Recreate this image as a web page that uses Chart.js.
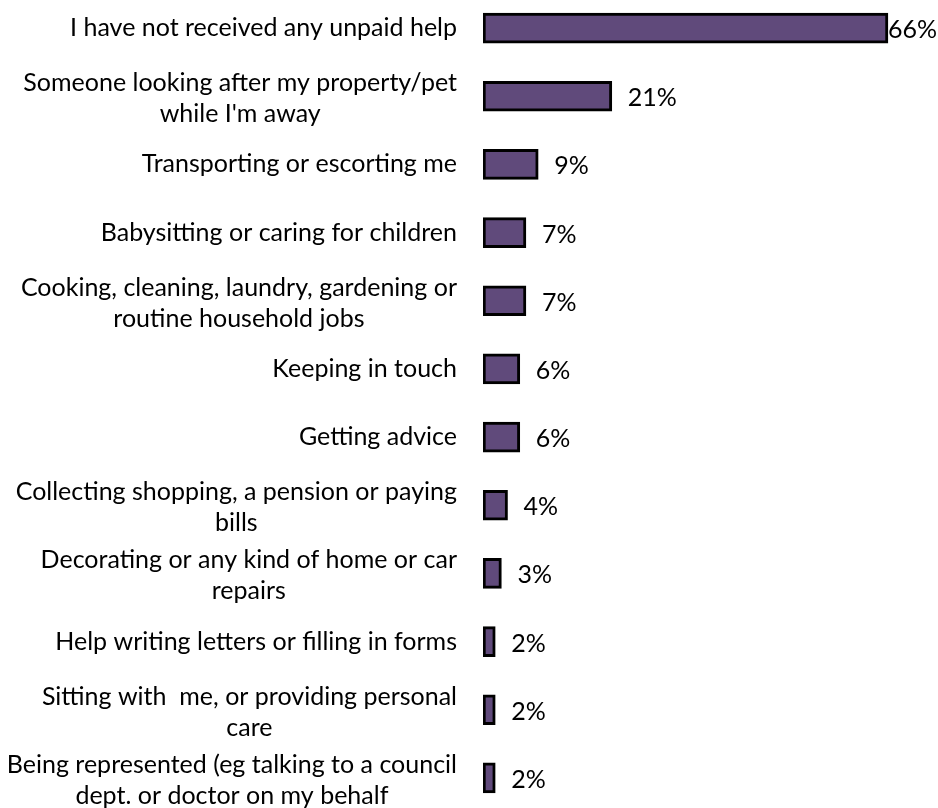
<!DOCTYPE html>
<html>
<head>
<meta charset="utf-8">
<script src="https://cdn.jsdelivr.net/npm/chart.js@4"></script>
<style>
  html, body { margin: 0; padding: 0; background: #ffffff; overflow: hidden; }
  #wrap { position: absolute; left: 0; top: -6px; width: 938px; height: 818px; }
</style>
</head>
<body>
<div id="wrap"><canvas id="chart"></canvas></div>
<script>
// Types of unpaid help received (% of respondents)
const categories = [
  ["I have not received any unpaid help"],
  ["Someone looking after my property/pet", "while I'm away"],
  ["Transporting or escorting me"],
  ["Babysitting or caring for children"],
  ["Cooking, cleaning, laundry, gardening or", "routine household jobs"],
  ["Keeping in touch"],
  ["Getting advice"],
  ["Collecting shopping, a pension or paying", "bills"],
  ["Decorating or any kind of home or car", "repairs"],
  ["Help writing letters or filling in forms"],
  ["Sitting with  me, or providing personal", "care"],
  ["Being represented (eg talking to a council", "dept. or doctor on my behalf"]
];
const percentages = [66, 21, 9, 7, 7, 6, 6, 4, 3, 2, 2, 2];
const valueLabels = ["66%", "21%", "9%", "7%", "7%", "6%", "6%", "4%", "3%", "2%", "2%", "2%"];

const FONT = "Lato, 'Liberation Sans', sans-serif";
const FONT_SIZE = 25;

// Category labels: right-aligned block, lines centred within the block
const categoryLabels = {
  id: 'categoryLabels',
  afterDraw(chart) {
    const ctx = chart.ctx;
    const yScale = chart.scales.y;
    const rightEdge = chart.chartArea.left - 26;
    ctx.save();
    ctx.font = FONT_SIZE + 'px ' + FONT;
    ctx.fillStyle = '#000000';
    ctx.textAlign = 'center';
    ctx.textBaseline = 'alphabetic';
    categories.forEach((lines, i) => {
      const cy = yScale.getPixelForValue(i);
      const widths = lines.map(l => ctx.measureText(l).width);
      const blockW = Math.max(...widths);
      const cx = rightEdge - blockW / 2;
      if (lines.length === 1) {
        ctx.fillText(lines[0], cx, cy + 8);
      } else {
        ctx.fillText(lines[0], cx, cy - 5);
        ctx.fillText(lines[1], cx, cy + 26);
      }
    });
    ctx.restore();
  }
};

// Percentage labels beside each bar end
const valueLabelPlugin = {
  id: 'valueLabels',
  afterDatasetsDraw(chart) {
    const ctx = chart.ctx;
    const meta = chart.getDatasetMeta(0);
    ctx.save();
    ctx.font = FONT_SIZE + 'px ' + FONT;
    ctx.fillStyle = '#000000';
    ctx.textAlign = 'left';
    ctx.textBaseline = 'alphabetic';
    meta.data.forEach((bar, i) => {
      const txt = valueLabels[i];
      const w = ctx.measureText(txt).width;
      let x = bar.x + 16;
      if (x + w > chart.width - 1) x = chart.width - 1 - w;
      ctx.fillText(txt, x, bar.y + 10);
    });
    ctx.restore();
  }
};

new Chart(document.getElementById('chart'), {
  type: 'bar',
  data: {
    labels: categories,
    datasets: [{
      data: percentages,
      backgroundColor: '#604A7B',
      borderColor: '#000000',
      borderWidth: 3,
      borderSkipped: false,
      barThickness: 30
    }]
  },
  options: {
    indexAxis: 'y',
    responsive: true,
    maintainAspectRatio: false,
    animation: false,
    layout: { padding: { left: 0, right: 25.5, top: 0, bottom: 0 } },
    plugins: {
      legend: { display: false },
      tooltip: { enabled: false }
    },
    scales: {
      x: {
        display: false,
        min: 0,
        max: 70
      },
      y: {
        grid: { display: false },
        border: { display: false },
        ticks: { display: false },
        afterFit(scale) { scale.width = 483; }
      }
    }
  },
  plugins: [categoryLabels, valueLabelPlugin]
});
</script>
</body>
</html>
